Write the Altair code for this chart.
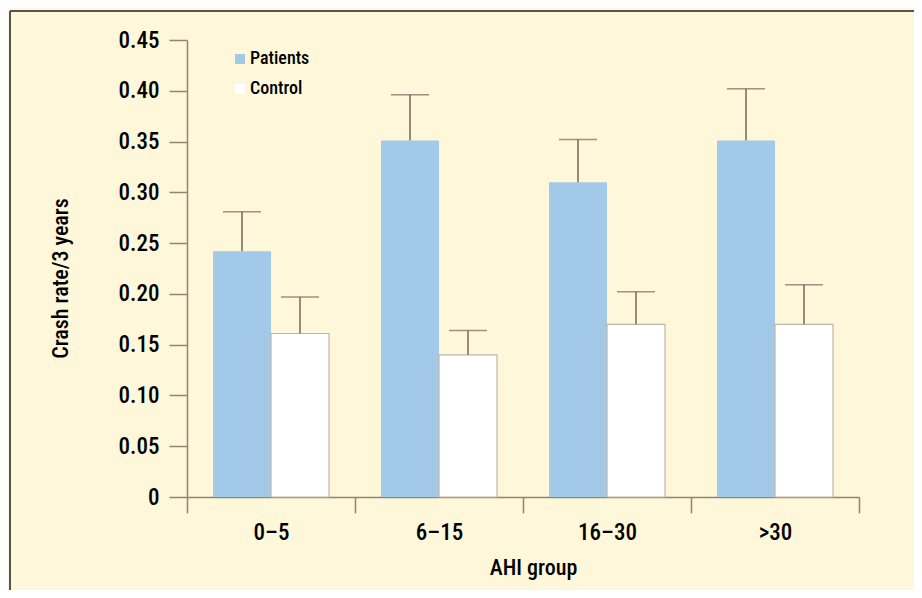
import altair as alt
import pandas as pd

groups = ["0–5", "6–15", "16–30", ">30"]
series = ["Patients", "Control"]
patients = [0.242, 0.351, 0.310, 0.351]
patients_err = [0.281, 0.396, 0.352, 0.402]
control = [0.161, 0.140, 0.170, 0.170]
control_err = [0.197, 0.164, 0.202, 0.209]
y_ticks = [0, 0.05, 0.10, 0.15, 0.20, 0.25, 0.30, 0.35, 0.40, 0.45]

rows = []
for g, v, e in zip(groups, patients, patients_err):
    rows.append({"group": g, "series": "Patients", "value": v, "upper": e})
for g, v, e in zip(groups, control, control_err):
    rows.append({"group": g, "series": "Control", "value": v, "upper": e})
df = pd.DataFrame(rows)

FONT = "Roboto Condensed, DejaVu Sans Condensed, sans-serif"
BG = "#FEF7DA"
BLUE = "#A2C9E8"
AXIS = "#8C8676"
ERR = "#6E6A5E"

x_enc = alt.X("group:N", sort=groups,
              scale=alt.Scale(paddingInner=0, paddingOuter=0),
              axis=alt.Axis(title="AHI group", labelAngle=0, tickBand="extent",
                            tickSize=16, labelPadding=8, titlePadding=13,
                            titleX=346))
xo_enc = alt.XOffset("series:N", sort=series,
                     scale=alt.Scale(domain=series, paddingInner=0, paddingOuter=0.448))

bars = alt.Chart(df).mark_bar(strokeWidth=1.2).encode(
    x=x_enc,
    xOffset=xo_enc,
    y=alt.Y("value:Q", scale=alt.Scale(domain=[0, 0.45], nice=False),
            axis=alt.Axis(title="Crash rate/3 years", values=y_ticks, tickSize=18,
                          labelPadding=10, titlePadding=46, titleY=238,
                          labelExpr="datum.value == 0 ? '0' : format(datum.value, '.2f')")),
    color=alt.Color("series:N", sort=series,
                    scale=alt.Scale(domain=series, range=[BLUE, "#FFFFFF"]),
                    legend=alt.Legend(title=None, orient="none", legendX=44, legendY=10,
                                      symbolType="square", symbolSize=100,
                                      symbolStrokeWidth=0, labelOffset=1,
                                      rowPadding=12, padding=0, labelFontSize=18)),
    stroke=alt.condition(alt.datum.series == "Control", alt.value("#BDB6A4"), alt.value("transparent")),
)

err_rule = alt.Chart(df).mark_rule(color=ERR, strokeWidth=1.5).encode(
    x=alt.X("group:N", sort=groups),
    xOffset=xo_enc,
    y="value:Q",
    y2="upper:Q",
)

err_cap = alt.Chart(df).mark_tick(color=ERR, thickness=1.5, size=38).encode(
    x=alt.X("group:N", sort=groups),
    xOffset=xo_enc,
    y="upper:Q",
)

frame_left = alt.Chart(df).mark_rule(color="#555555", strokeWidth=1.5).encode(
    x=alt.value(-177), y=alt.value(-29), y2=alt.value(560))
frame_top = alt.Chart(df).mark_rule(color="#555555", strokeWidth=1.5).encode(
    x=alt.value(-177), x2=alt.value(730), y=alt.value(-29))

chart = alt.layer(bars, err_rule, err_cap, frame_left, frame_top).properties(
    width=672, height=457,
    autosize=alt.AutoSizeParams(type="none"),
    padding={"left": 179, "top": 32, "right": 55, "bottom": 93},
    background=BG,
).configure_view(stroke=None).configure_axis(
    domainColor=AXIS, tickColor=AXIS, domainWidth=1.5, tickWidth=1.5,
    grid=False, labelFont=FONT, titleFont=FONT, labelFontSize=23,
    titleFontSize=22, labelColor="#000000", titleColor="#000000",
    titleFontWeight=500, labelFontWeight=500,
).configure_legend(labelFont=FONT, labelColor="#000000", labelFontWeight=500)

chart.save("out.html", embed_options={"renderer": "svg", "actions": False})
